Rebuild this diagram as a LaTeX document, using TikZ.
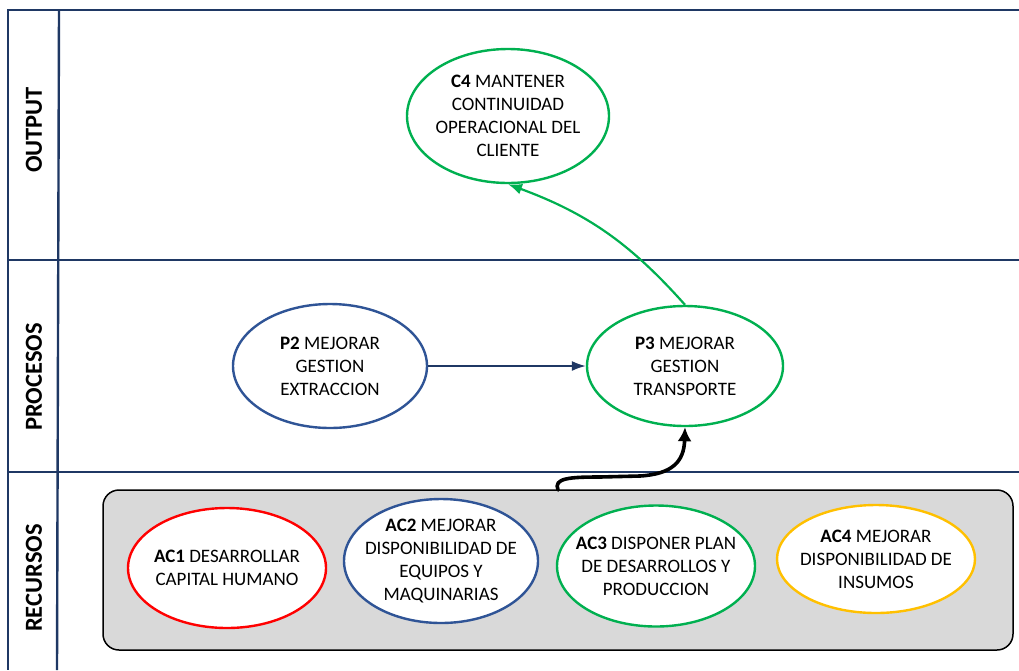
\documentclass[tikz,border=0pt]{standalone}
\usepackage{fontspec}
\setmainfont{Carlito}
\usetikzlibrary{shapes.geometric,arrows.meta,calc}
\definecolor{lane}{HTML}{1F3864}
\definecolor{gr}{HTML}{00B050}
\definecolor{bl}{HTML}{2F5496}
\definecolor{rd}{HTML}{FF0000}
\definecolor{yl}{HTML}{FFC000}
\definecolor{boxfill}{HTML}{D9D9D9}
\tikzset{
  laneline/.style={draw=lane,line width=2.4pt},
  lanelbl/.style={rotate=90,font=\fontsize{24.5}{27}\selectfont\bfseries},
  ell/.style={ellipse,draw=#1,line width=2.4pt,fill=white,inner sep=0pt},
  txt/.style={align=center,font=\fontsize{19}{23}\selectfont,inner sep=0pt},
  grpbox/.style={draw=black,line width=1.5pt,fill=boxfill,rounded corners=16pt},
}
\begin{document}
\begin{tikzpicture}[x=1pt,y=-1pt]
\useasboundingbox (0,0) rectangle (1019,670);
% lanes
\draw[laneline] (1019,10) -- (8,10) -- (8,670);
\draw[laneline] (59,10) -- (57,670);
\draw[laneline] (8,260) -- (1019,260);
\draw[laneline] (8,472) -- (1019,472);
\node[lanelbl] (lout) at (34,130) {OUTPUT};
\node[lanelbl] (lpro) at (34,377) {PROCESOS};
\node[lanelbl] (lrec) at (34,578) {RECURSOS};
% resources box
\node[grpbox,minimum width=910pt,minimum height=160pt] (box) at (558,570) {};
% ellipses
\node[ell=gr,minimum width=202pt,minimum height=134pt] (c4) at (508,116) {};
\node[txt] (c4t) at (c4) {\textbf{C4} MANTENER\\CONTINUIDAD\\OPERACIONAL DEL\\CLIENTE};
\node[ell=bl,minimum width=194pt,minimum height=124pt] (p2) at (330,366) {};
\node[txt] (p2t) at (p2) {\textbf{P2} MEJORAR\\GESTION\\EXTRACCION};
\node[ell=gr,minimum width=196pt,minimum height=120pt] (p3) at (685,366) {};
\node[txt] (p3t) at (p3) {\textbf{P3} MEJORAR\\GESTION\\TRANSPORTE};
\node[ell=rd,minimum width=198pt,minimum height=120pt] (ac1) at (227,568) {};
\node[txt] (ac1t) at (ac1) {\textbf{AC1} DESARROLLAR\\CAPITAL HUMANO};
\node[ell=bl,minimum width=194pt,minimum height=124pt] (ac2) at (441,561) {};
\node[txt] (ac2t) at (ac2) {\textbf{AC2} MEJORAR\\DISPONIBILIDAD DE\\EQUIPOS Y\\MAQUINARIAS};
\node[ell=gr,minimum width=198pt,minimum height=121pt] (ac3) at (656,566) {};
\node[txt] (ac3t) at (ac3) {\textbf{AC3} DISPONER PLAN\\DE DESARROLLOS Y\\PRODUCCION};
\node[ell=yl,minimum width=198pt,minimum height=108pt] (ac4) at (876,559) {};
\node[txt] (ac4t) at (ac4) {\textbf{AC4} MEJORAR\\DISPONIBILIDAD DE\\INSUMOS};
% connectors
\draw[draw=lane,line width=1.6pt,-{Latex[length=14pt,width=10pt]}] (p2.east) -- (p3.west);
\draw[draw=gr,line width=2.2pt,-{Latex[length=14pt,width=11pt]}] (p3.north) to[bend right=14] (c4.south);
\coordinate (bstart) at (558,490);
\draw[line width=3.6pt,line cap=round,-{Latex[length=14pt,width=14pt]}]
  (bstart) .. controls (553,478) and (570,477) .. (600,477)
  -- (640,476) .. controls (672,474) and (684,462) .. (p3.south);
\end{tikzpicture}
\end{document}
